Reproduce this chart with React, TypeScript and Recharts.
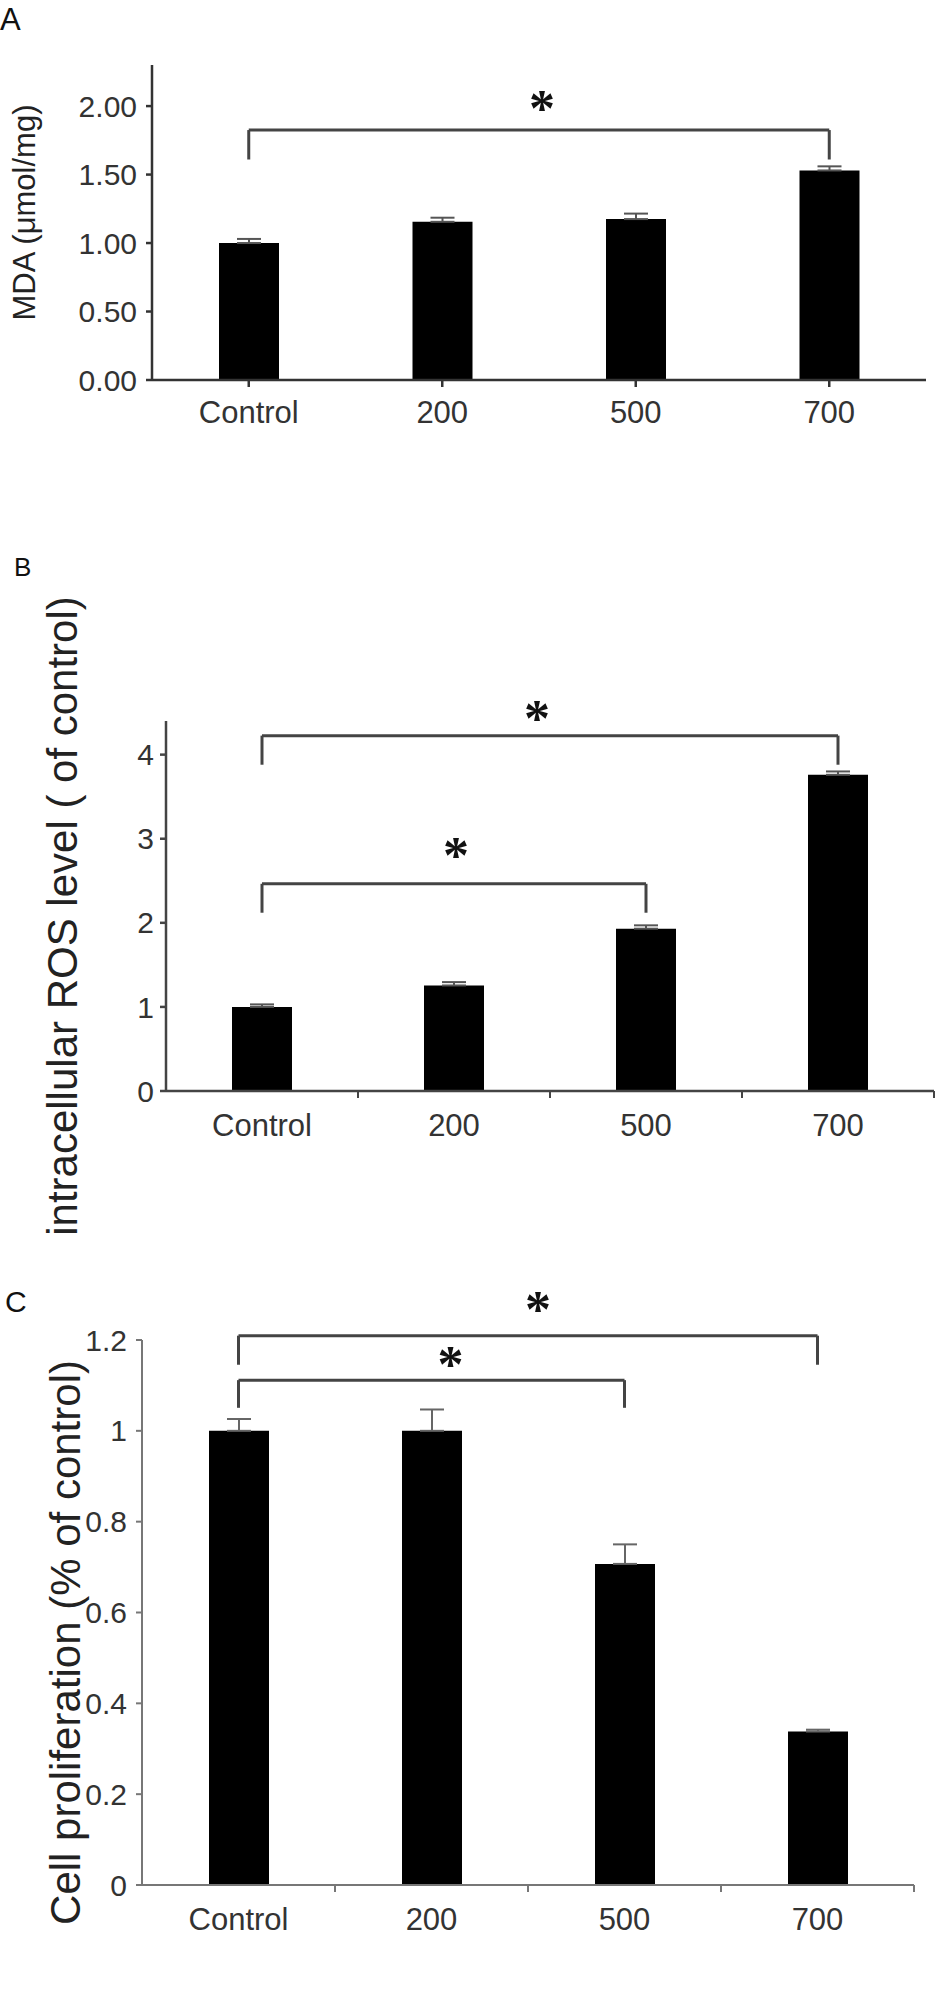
import React from 'react'
import { Bar, BarChart, ErrorBar, ReferenceLine, XAxis, YAxis } from 'recharts'

const FONT = '"Liberation Sans", Arial, sans-serif'

const groups = ['Control', '200', '500', '700']

// panel A: MDA (umol/mg)
const mdaMean = [1.0, 1.155, 1.175, 1.53]
const mdaErr = [0.03, 0.03, 0.04, 0.03]
const mdaTicks = [0, 0.5, 1, 1.5, 2]

// panel B: intracellular ROS
const rosMean = [1.0, 1.255, 1.93, 3.76]
const rosErr = [0.03, 0.04, 0.04, 0.04]
const rosTicks = [0, 1, 2, 3, 4]

// panel C: cell proliferation
const prolifMean = [1.0, 1.0, 0.707, 0.338]
const prolifErr = [0.026, 0.047, 0.043, 0.004]
const prolifTicks = [0, 0.2, 0.4, 0.6, 0.8, 1, 1.2]

// significance brackets: from/to group, top of bracket, foot of legs
const mdaBrackets = [{ from: 'Control', to: '700', top: 1.825, foot: 1.61, gap: 4, dx: 3 }]
const rosBrackets = [
  { from: 'Control', to: '700', top: 4.226, foot: 3.88, gap: 0, dx: -13 },
  { from: 'Control', to: '500', top: 2.464, foot: 2.12, gap: 11, dx: 2 },
]
const prolifBrackets = [
  { from: 'Control', to: '700', top: 1.2095, foot: 1.1455, gap: 9, dx: 10 },
  { from: 'Control', to: '500', top: 1.1116, foot: 1.0507, gap: -2, dx: 19 },
]

type Bracket = { from: string; to: string; top: number; foot: number; gap: number; dx: number }

const rows = (means: number[], errs: number[]) =>
  groups.map((g, i) => ({ group: g, mean: means[i], err: [0, errs[i]] }))

function bracketLines(list: Bracket[], stroke: string, width: number) {
  return list.flatMap((b, i) => [
    <ReferenceLine
      key={`top-${i}`}
      segment={[{ x: b.from, y: b.top }, { x: b.to, y: b.top }]}
      stroke={stroke}
      strokeWidth={width}
      ifOverflow="visible"
      label={(p: any) => (
        <text
          x={p.viewBox.x + p.viewBox.width / 2 + b.dx}
          y={p.viewBox.y - b.gap}
          textAnchor="middle"
          fontFamily='"Liberation Serif", serif'
          fontWeight="bold"
          fontSize={52}
          fill="#111"
        >
          *
        </text>
      )}
    />,
    <ReferenceLine
      key={`l-${i}`}
      segment={[{ x: b.from, y: b.top }, { x: b.from, y: b.foot }]}
      stroke={stroke}
      strokeWidth={width}
      ifOverflow="visible"
    />,
    <ReferenceLine
      key={`r-${i}`}
      segment={[{ x: b.to, y: b.top }, { x: b.to, y: b.foot }]}
      stroke={stroke}
      strokeWidth={width}
      ifOverflow="visible"
    />,
  ])
}

// tick marks between categories (panels B and C)
function edgeTicks(len: number, stroke: string) {
  const marks = groups.slice(1).map((g) => ({ x: g, pos: 'start' as const }))
  marks.push({ x: groups[groups.length - 1], pos: 'end' as any })
  return marks.map((m, i) => (
    <ReferenceLine
      key={`edge-${i}`}
      segment={[{ x: m.x, y: 0 }, { x: m.x, y: -len }]}
      position={m.pos}
      stroke={stroke}
      strokeWidth={2}
      ifOverflow="visible"
    />
  ))
}

function yTitle(text: string, baseX: number, shift: number, size: number) {
  return (p: any) => {
    const vb = p.viewBox
    const y = vb.y + vb.height / 2 + shift
    return (
      <text
        x={baseX}
        y={y}
        transform={`rotate(-90, ${baseX}, ${y})`}
        textAnchor="middle"
        fontFamily={FONT}
        fontSize={size}
        fill="#222"
      >
        {text}
      </text>
    )
  }
}

export default function App() {
  return (
    <div style={{ position: 'absolute', left: 0, top: 0, width: 945, height: 2008, background: '#fff' }}>
      <div style={{ position: 'absolute', left: 0, top: 0 }}>
        <BarChart width={945} height={440} data={rows(mdaMean, mdaErr)} margin={{ top: 65, right: 19, bottom: 10, left: 0 }}>
          <XAxis
            dataKey="group"
            height={50}
            stroke="#333"
            strokeWidth={2.5}
            tickSize={7}
            tickMargin={14}
            tick={{ fill: '#333', fontSize: 31, fontFamily: FONT }}
          />
          <YAxis
            width={152}
            domain={[0, 2.3]}
            ticks={mdaTicks}
            tickFormatter={(v: number) => v.toFixed(2)}
            stroke="#333"
            strokeWidth={2.5}
            tickSize={6}
            tickMargin={9}
            tick={{ fill: '#333', fontSize: 30, fontFamily: FONT }}
            label={{ content: yTitle('MDA (μmol/mg)', 35, -10, 31) }}
          />
          <Bar dataKey="mean" fill="#000" barSize={60} isAnimationActive={false}>
            <ErrorBar dataKey="err" width={12} stroke="#555" strokeWidth={2} direction="y" />
          </Bar>
          {bracketLines(mdaBrackets, '#444', 3)}
        </BarChart>
      </div>

      <div style={{ position: 'absolute', left: 0, top: 540 }}>
        <BarChart width={945} height={720} data={rows(rosMean, rosErr)} margin={{ top: 181, right: 11, bottom: 109, left: 0 }}>
          <XAxis
            dataKey="group"
            height={60}
            stroke="#444"
            strokeWidth={2.5}
            tickLine={false}
            tickSize={7}
            tickMargin={16}
            tick={{ fill: '#333', fontSize: 31, fontFamily: FONT }}
          />
          <YAxis
            width={166}
            domain={[0, 4.4]}
            ticks={rosTicks}
            stroke="#444"
            strokeWidth={2.5}
            tickSize={6}
            tickMargin={6}
            tick={{ fill: '#333', fontSize: 30, fontFamily: FONT }}
            label={{ content: yTitle('intracellular ROS level ( of control)', 77, 10, 42) }}
          />
          <Bar dataKey="mean" fill="#000" barSize={60} isAnimationActive={false}>
            <ErrorBar dataKey="err" width={12} stroke="#555" strokeWidth={2} direction="y" />
          </Bar>
          {edgeTicks(0.083, '#444')}
          {bracketLines(rosBrackets, '#444', 3)}
        </BarChart>
      </div>

      <div style={{ position: 'absolute', left: 0, top: 1260 }}>
        <BarChart width={945} height={748} data={rows(prolifMean, prolifErr)} margin={{ top: 80, right: 31, bottom: 63, left: 0 }}>
          <XAxis
            dataKey="group"
            height={60}
            stroke="#777"
            strokeWidth={2}
            tickLine={false}
            tickSize={7}
            tickMargin={16}
            tick={{ fill: '#333', fontSize: 31, fontFamily: FONT }}
          />
          <YAxis
            width={142}
            domain={[0, 1.2]}
            ticks={prolifTicks}
            stroke="#777"
            strokeWidth={2}
            tickSize={6}
            tickMargin={9}
            tick={{ fill: '#333', fontSize: 30, fontFamily: FONT }}
            label={{ content: yTitle('Cell proliferation (% of control)', 80, 30, 42) }}
          />
          <Bar dataKey="mean" fill="#000" barSize={60} isAnimationActive={false}>
            <ErrorBar dataKey="err" width={12} stroke="#666" strokeWidth={2} direction="y" />
          </Bar>
          {edgeTicks(0.0155, '#777')}
          {bracketLines(prolifBrackets, '#444', 3)}
        </BarChart>
      </div>

      <svg width={945} height={2008} style={{ position: 'absolute', left: 0, top: 0, pointerEvents: 'none' }}>
        <text x={0} y={30} fontFamily={FONT} fontSize={31} fill="#111">A</text>
        <text x={14} y={576} fontFamily={FONT} fontSize={26} fill="#111">B</text>
        <text x={5} y={1312} fontFamily={FONT} fontSize={30} fill="#111">C</text>
      </svg>
    </div>
  )
}
